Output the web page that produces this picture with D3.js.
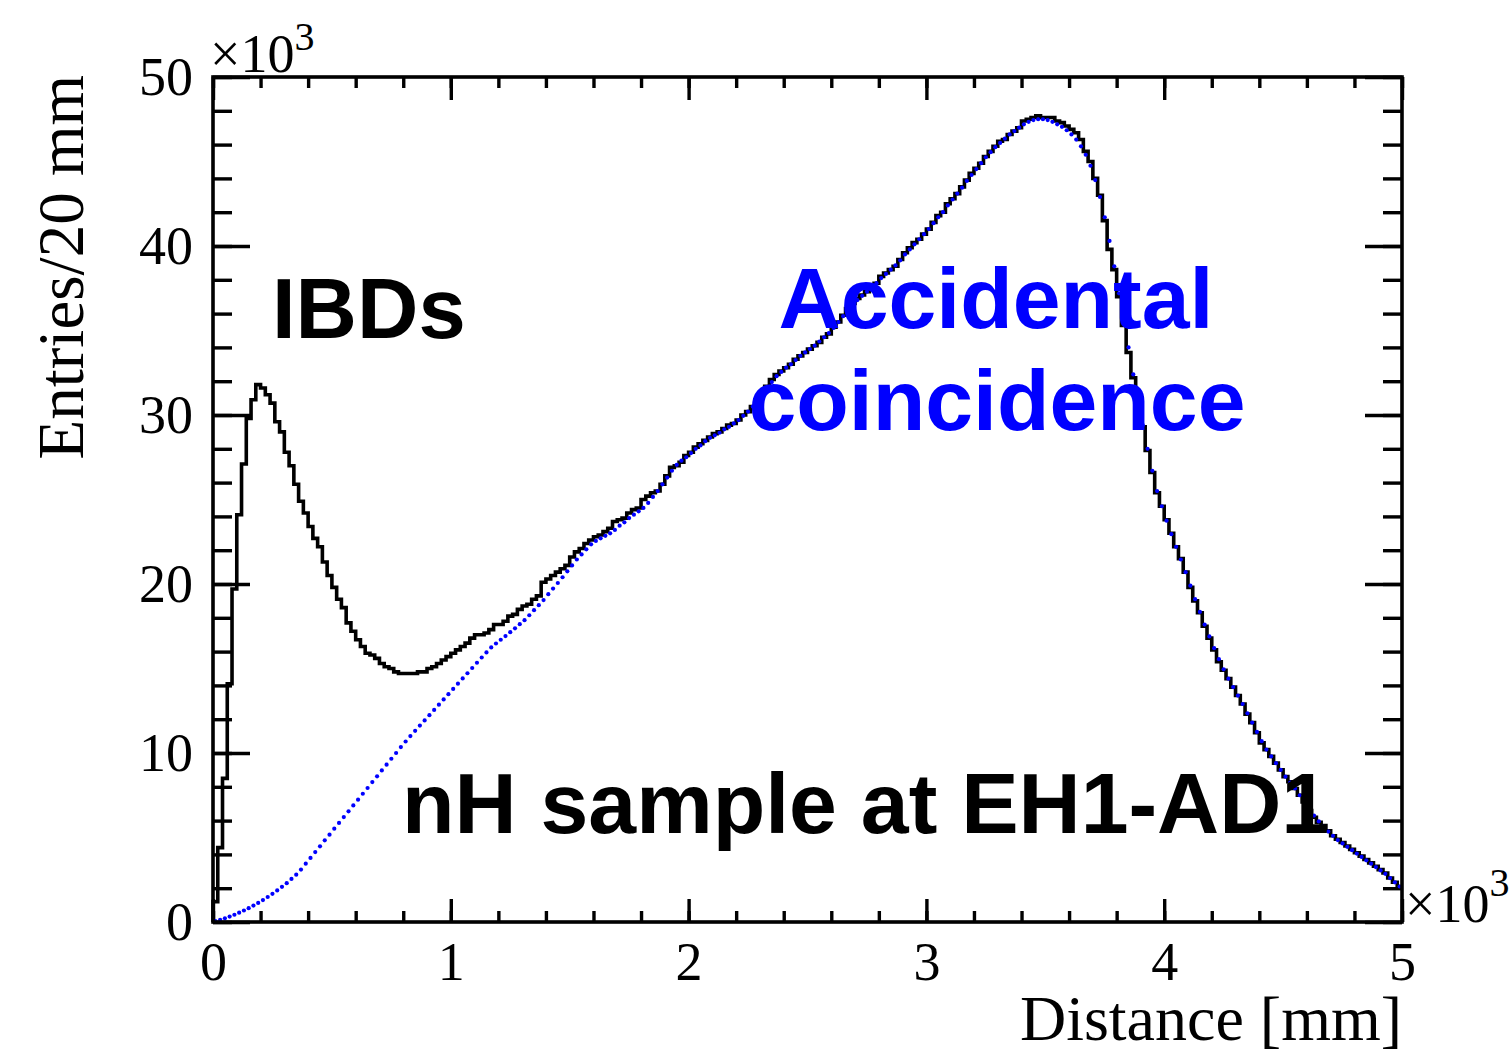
<!DOCTYPE html>
<html>
<head>
<meta charset="utf-8">
<script src="https://cdn.jsdelivr.net/npm/d3@7"></script>
<style>
  body { margin: 0; background: #fff; }
</style>
</head>
<body>
<script>
// prompt-delayed distance, 20 mm bins from 0 to 5000 mm, entries in units of 10^3
const binWidth = 20;

// all coincidences (black histogram)
const allPairs = [
  1.2, 4.4, 8.5, 14.1, 19.7, 24.1, 27.1, 29.8, 30.9, 31.8,
  31.6, 31.2, 30.7, 29.6, 29.0, 27.8, 27.0, 25.9, 24.9, 24.2,
  23.4, 22.7, 22.2, 21.3, 20.5, 19.8, 19.1, 18.6, 17.7, 17.2,
  16.7, 16.3, 15.9, 15.8, 15.6, 15.3, 15.1, 15.0, 14.8, 14.7,
  14.7, 14.7, 14.7, 14.8, 14.8, 15.0, 15.1, 15.3, 15.5, 15.7,
  15.9, 16.1, 16.3, 16.5, 16.8, 17.0, 17.0, 17.1, 17.3, 17.6,
  17.6, 17.8, 18.1, 18.2, 18.5, 18.7, 18.8, 19.1, 19.3, 20.1,
  20.3, 20.5, 20.7, 20.9, 21.1, 21.6, 21.9, 22.1, 22.4, 22.6,
  22.8, 22.9, 23.1, 23.3, 23.7, 23.8, 23.9, 24.2, 24.4, 24.5,
  25.0, 25.2, 25.4, 25.5, 25.9, 26.4, 26.9, 27.0, 27.2, 27.6,
  27.8, 28.1, 28.3, 28.5, 28.7, 28.9, 29.0, 29.2, 29.4, 29.5,
  29.7, 30.0, 30.2, 30.5, 30.9, 31.3, 31.7, 32.1, 32.4, 32.6,
  32.8, 33.0, 33.3, 33.5, 33.7, 33.9, 34.1, 34.3, 34.6, 34.8,
  35.2, 35.5, 35.9, 36.3, 36.6, 36.9, 37.1, 37.3, 37.6, 37.8,
  38.2, 38.4, 38.6, 38.8, 39.2, 39.6, 39.9, 40.2, 40.4, 40.7,
  41.0, 41.4, 41.8, 42.0, 42.5, 42.8, 43.1, 43.5, 43.9, 44.3,
  44.6, 44.9, 45.3, 45.6, 45.9, 46.2, 46.3, 46.6, 46.8, 47.0,
  47.4, 47.5, 47.6, 47.7, 47.6, 47.6, 47.6, 47.4, 47.3, 47.1,
  46.9, 46.7, 46.3, 45.6, 45.0, 44.0, 43.0, 41.5, 39.8, 38.6,
  37.0, 35.3, 33.7, 32.2, 30.7, 29.3, 27.9, 26.6, 25.4, 24.6,
  23.8, 23.0, 22.2, 21.5, 20.7, 19.8, 19.0, 18.3, 17.5, 16.8,
  16.1, 15.4, 14.9, 14.4, 13.9, 13.4, 12.9, 12.3, 11.8, 11.2,
  10.6, 10.2, 9.8, 9.4, 9.0, 8.6, 8.3, 7.9, 7.5, 7.1,
  6.6, 6.2, 5.9, 5.7, 5.4, 5.1, 4.9, 4.7, 4.5, 4.3,
  4.1, 3.9, 3.7, 3.5, 3.3, 3.1, 2.9, 2.6, 2.35, 2.1
];

// accidental background (blue dots)
const accidentals = [
  0.05, 0.13, 0.22, 0.32, 0.43, 0.55, 0.68, 0.82, 0.97, 1.13,
  1.3, 1.48, 1.67, 1.87, 2.08, 2.3, 2.55, 2.8, 3.1, 3.45,
  3.79, 4.14, 4.48, 4.83, 5.17, 5.52, 5.86, 6.21, 6.55, 6.9,
  7.24, 7.59, 7.93, 8.28, 8.62, 8.97, 9.31, 9.66, 10.0, 10.35,
  10.68, 11.0, 11.31, 11.62, 11.93, 12.24, 12.55, 12.86, 13.17, 13.48,
  13.79, 14.1, 14.41, 14.72, 15.03, 15.34, 15.65, 15.95, 16.25, 16.48,
  16.7, 16.92, 17.15, 17.38, 17.62, 17.86, 18.15, 18.45, 18.75, 19.05,
  19.4, 19.73, 20.06, 20.4, 20.75, 21.1, 21.45, 21.75, 22.05, 22.35,
  22.55, 22.7, 22.85, 23.0, 23.2, 23.45, 23.65, 23.9, 24.1, 24.3,
  24.5, 24.8, 25.15, 25.5, 25.9, 26.3, 26.7, 27.05, 27.3, 27.5,
  27.75, 28.0, 28.2, 28.45, 28.65, 28.8, 28.95, 29.15, 29.3, 29.5,
  29.7, 29.95, 30.2, 30.5, 30.85, 31.2, 31.6, 31.95, 32.3, 32.55,
  32.8, 33.0, 33.25, 33.5, 33.7, 33.9, 34.1, 34.35, 34.6, 34.85,
  35.15, 35.5, 35.85, 36.2, 36.5, 36.8, 37.05, 37.3, 37.55, 37.8,
  38.1, 38.35, 38.6, 38.85, 39.15, 39.5, 39.8, 40.1, 40.4, 40.7,
  41.0, 41.35, 41.7, 42.0, 42.4, 42.75, 43.1, 43.45, 43.85, 44.2,
  44.55, 44.9, 45.25, 45.55, 45.85, 46.1, 46.35, 46.6, 46.8, 47.0,
  47.2, 47.35, 47.45, 47.5, 47.5, 47.45, 47.35, 47.2, 47.05, 46.85,
  46.6, 46.3, 45.9, 45.4, 44.75, 43.9, 42.9, 41.7, 40.3, 38.8,
  37.2, 35.6, 34.0, 32.4, 30.9, 29.4, 28.0, 26.7, 25.5, 24.6,
  23.75, 22.95, 22.2, 21.45, 20.7, 19.9, 19.1, 18.35, 17.6, 16.9,
  16.2, 15.55, 14.95, 14.4, 13.9, 13.4, 12.9, 12.35, 11.8, 11.25,
  10.7, 10.2, 9.8, 9.4, 9.0, 8.6, 8.25, 7.9, 7.5, 7.1,
  6.7, 6.3, 5.95, 5.65, 5.35, 5.1, 4.85, 4.65, 4.45, 4.25,
  4.05, 3.85, 3.65, 3.45, 3.25, 3.05, 2.85, 2.6, 2.35, 2.1
];

const xMajor = [0, 1000, 2000, 3000, 4000, 5000];
const xMinor = d3.range(0, 5001, 200);
const yMajor = [0, 10, 20, 30, 40, 50];
const yMinor = d3.range(0, 51, 2);

var width = 1512,
    height = 1054,
    serif = "'Liberation Serif', 'Times New Roman', serif",
    sans = "'Liberation Sans', Arial, Helvetica, sans-serif";

var svg = d3.select('body').append('svg')
    .attr('width', width)
    .attr('height', height)
    .style('background', '#fff');

var x = d3.scaleLinear().domain([0, 5000]).range([213, 1402]);
var y = d3.scaleLinear().domain([0, 50]).range([922, 77]);

// tick marks on all four sides, pointing inward
function tickRow(axisFn, scale, values, size, transform) {
    svg.append('g')
        .attr('transform', transform)
        .call(axisFn(scale).tickValues(values).tickSize(size).tickFormat(''))
        .call(g => g.select('.domain').remove())
        .selectAll('line')
        .attr('stroke', '#000')
        .attr('stroke-width', 3.4);
}
tickRow(d3.axisBottom, x, xMinor, -11, 'translate(0,922)');
tickRow(d3.axisBottom, x, xMajor, -23, 'translate(0,922)');
tickRow(d3.axisTop, x, xMinor, -11, 'translate(0,77)');
tickRow(d3.axisTop, x, xMajor, -23, 'translate(0,77)');
tickRow(d3.axisLeft, y, yMinor, -19, 'translate(213,0)');
tickRow(d3.axisLeft, y, yMajor, -37, 'translate(213,0)');
tickRow(d3.axisRight, y, yMinor, -19, 'translate(1402,0)');
tickRow(d3.axisRight, y, yMajor, -37, 'translate(1402,0)');

// tick labels
svg.append('g')
    .attr('transform', 'translate(0,922)')
    .call(d3.axisBottom(x).tickValues(xMajor).tickSize(0).tickPadding(20).tickFormat(d => d / 1000))
    .call(g => g.select('.domain').remove())
    .selectAll('text')
    .attr('fill', '#000')
    .style('font-family', serif)
    .style('font-size', '54px');

svg.append('g')
    .attr('transform', 'translate(213,0)')
    .call(d3.axisLeft(y).tickValues(yMajor).tickSize(0).tickPadding(20))
    .call(g => g.select('.domain').remove())
    .selectAll('text')
    .attr('fill', '#000')
    .style('font-family', serif)
    .style('font-size', '54px');

// x10^3 exponents
function exponent(px, py, supDy) {
    var t = svg.append('text')
        .attr('x', px)
        .attr('y', py)
        .style('font-family', serif)
        .style('font-size', '54px')
        .attr('fill', '#000');
    t.append('tspan').text('\u00d710');
    t.append('tspan').attr('dy', supDy).style('font-size', '40px').text('3');
}
exponent(210, 72, -22);
exponent(1405, 922, -26);

// axis titles
svg.append('text')
    .attr('transform', 'translate(83,75) rotate(-90)')
    .attr('text-anchor', 'end')
    .style('font-family', serif)
    .style('font-size', '65px')
    .text('Entries/20 mm');

svg.append('text')
    .attr('x', 1402)
    .attr('y', 1040)
    .attr('text-anchor', 'end')
    .style('font-family', serif)
    .style('font-size', '64px')
    .text('Distance [mm]');

// black histogram outline
var histPts = allPairs.map((v, i) => ({ d: i * binWidth, v: v }));
histPts.unshift({ d: 0, v: 0 });
histPts.push({ d: allPairs.length * binWidth, v: allPairs[allPairs.length - 1] });

var stepLine = d3.line()
    .x(p => x(p.d))
    .y(p => y(p.v))
    .curve(d3.curveStepAfter);

svg.append('path')
    .datum(histPts)
    .attr('d', stepLine)
    .attr('fill', 'none')
    .attr('stroke', '#000')
    .attr('stroke-width', 3.6);

// accidental background as dotted markers at bin centres
svg.append('g')
    .selectAll('circle')
    .data(accidentals)
    .enter()
    .append('circle')
    .attr('cx', (v, i) => x((i + 0.5) * binWidth))
    .attr('cy', v => y(v))
    .attr('r', 2.1)
    .attr('fill', '#0000ff');

// annotations
svg.append('text')
    .attr('x', 272)
    .attr('y', 338)
    .style('font-family', sans)
    .style('font-weight', 'bold')
    .style('font-size', '85px')
    .attr('fill', '#000')
    .text('IBDs');

svg.append('text')
    .attr('x', 996)
    .attr('y', 328)
    .attr('text-anchor', 'middle')
    .style('font-family', sans)
    .style('font-weight', 'bold')
    .style('font-size', '86px')
    .attr('fill', '#0000ff')
    .text('Accidental');

svg.append('text')
    .attr('x', 997)
    .attr('y', 430)
    .attr('text-anchor', 'middle')
    .style('font-family', sans)
    .style('font-weight', 'bold')
    .style('font-size', '86px')
    .attr('fill', '#0000ff')
    .text('coincidence');

svg.append('text')
    .attr('x', 402)
    .attr('y', 833)
    .style('font-family', sans)
    .style('font-weight', 'bold')
    .style('font-size', '86px')
    .attr('fill', '#000')
    .text('nH sample at EH1-AD1');

// frame
svg.append('rect')
    .attr('x', 213)
    .attr('y', 77)
    .attr('width', 1189)
    .attr('height', 845)
    .attr('fill', 'none')
    .attr('stroke', '#000')
    .attr('stroke-width', 3.6);
</script>
</body>
</html>
